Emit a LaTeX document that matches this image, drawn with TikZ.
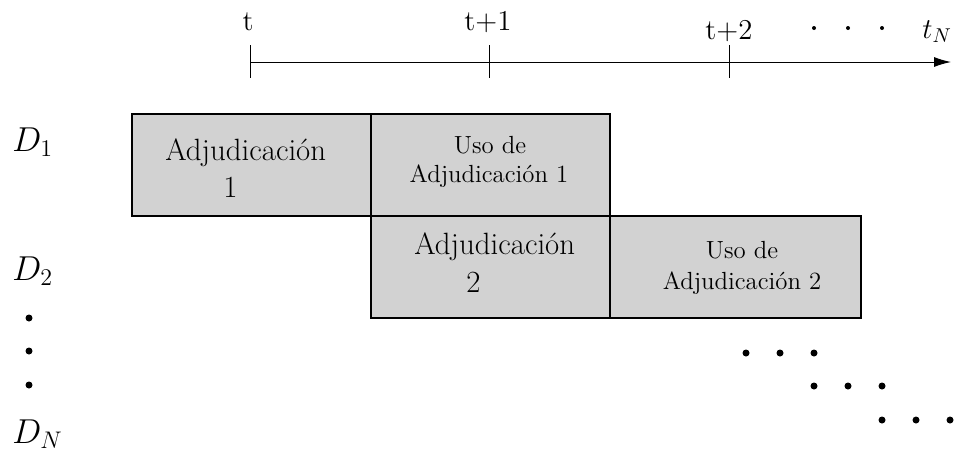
\documentclass[tikz,border=0pt]{standalone}
\usetikzlibrary{arrows.meta}
\begin{document}
\begin{tikzpicture}[x=0.5pt,y=-0.5pt,
  box/.style={draw=black, line width=0.8pt, fill=gray!35, minimum height=51pt, inner sep=0pt, anchor=north west},
  axtxt/.style={font=\Large, inner sep=0pt},
  bigtxt/.style={font=\fontsize{15.4}{18}\selectfont, inner sep=0pt, anchor=base west},
  smalltxt/.style={font=\fontsize{12.4}{14}\selectfont, inner sep=0pt, anchor=base},
  dlab/.style={font=\fontsize{17}{20}\selectfont, inner sep=0pt, anchor=base west},
  tick/.style={line width=0.5pt},
  bigdot/.style={fill=black},
]
\useasboundingbox (0,0) rectangle (956,452);

% time axis
\coordinate (axs) at (250,62);
\coordinate (axe) at (951,62);
\draw[line width=0.5pt, -{Latex[length=8.5pt,width=5pt]}] (axs) -- (axe);
\draw[tick] (250,45) -- (250,78);
\draw[tick] (489,45) -- (489,78);
\draw[tick] (729,45) -- (729,78);
\node[axtxt, anchor=base] (lt) at (248,30) {t};
\node[axtxt, anchor=base] (lt1) at (488,30) {t+1};
\node[axtxt, anchor=base] (lt2) at (729,39) {t+2};
\node[axtxt, anchor=base west] (ltn) at (922,38) {$t_N$};
\fill (814,28) circle (1pt);
\fill (848,28) circle (1pt);
\fill (882,28) circle (1pt);

% boxes
\node[box, minimum width=119.5pt] (b1) at (131,113) {};
\node[box, minimum width=119.5pt] (b2) at (370,113) {};
\node[box, minimum width=119.5pt] (b3) at (370,215) {};
\node[box, minimum width=125.5pt] (b4) at (609,215) {};

% box texts
\node[bigtxt] (b1a) at (165,160) {Adjudicación};
\node[bigtxt] (b1b) at (223,197) {1};
\node[bigtxt] (b3a) at (414,254) {Adjudicación};
\node[bigtxt] (b3b) at (466,292) {2};
\node[smalltxt] (b2a) at (490,153) {Uso de};
\node[smalltxt] (b2b) at (489,182) {Adjudicación 1};
\node[smalltxt] (b4a) at (742,258) {Uso de};
\node[smalltxt] (b4b) at (742,289) {Adjudicación 2};

% row labels
\node[dlab] (d1) at (12,151) {$D_1$};
\node[dlab] (d2) at (12,280) {$D_2$};
\node[dlab] (dn) at (12,443) {$D_N$};
\fill[bigdot] (29,318) circle (1.75pt);
\fill[bigdot] (29,351) circle (1.75pt);
\fill[bigdot] (29,385) circle (1.75pt);

% continuation dots
\fill[bigdot] (746,353) circle (1.75pt);
\fill[bigdot] (780,353) circle (1.75pt);
\fill[bigdot] (814,353) circle (1.75pt);
\fill[bigdot] (814,386) circle (1.75pt);
\fill[bigdot] (848,386) circle (1.75pt);
\fill[bigdot] (882,386) circle (1.75pt);
\fill[bigdot] (882,420) circle (1.75pt);
\fill[bigdot] (916,420) circle (1.75pt);
\fill[bigdot] (950,420) circle (1.75pt);
\end{tikzpicture}
\end{document}
